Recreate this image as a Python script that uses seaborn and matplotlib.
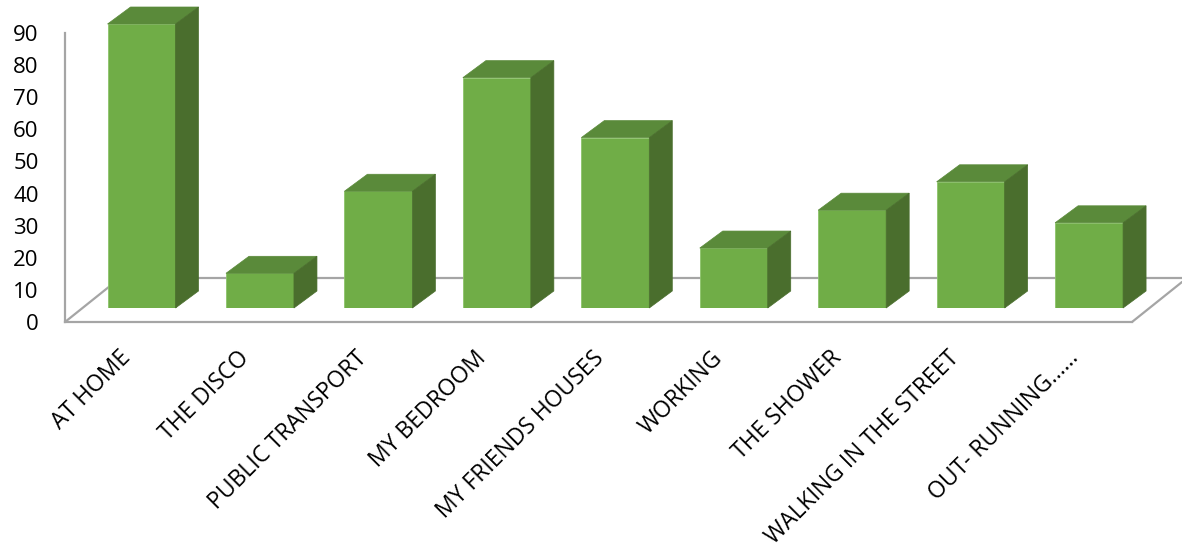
import numpy as np
import pandas as pd
import matplotlib
matplotlib.use("Agg")
import matplotlib.pyplot as plt
import matplotlib.transforms as mtransforms
from matplotlib.patches import Polygon
from matplotlib.lines import Line2D
import seaborn as sns

categories = ["AT HOME", "THE DISCO", "PUBLIC TRANSPORT", "MY BEDROOM",
              "MY FRIENDS HOUSES", "WORKING", "THE SHOWER",
              "WALKING IN THE STREET", "OUT- RUNNING……"]
values = [90, 11, 37, 73, 54, 19, 31, 40, 27]
y_ticks = [0, 10, 20, 30, 40, 50, 60, 70, 80, 90]

FRONT = "#70AD47"
TOP = "#5A8A3A"
SIDE = "#4A6E2D"
GRID = "#A5A5A5"

sns.set_theme(style="white")
plt.rcParams["font.family"] = ["Open Sans", "DejaVu Sans"]

W, H = 1182, 548
fig = plt.figure(figsize=(W / 100, H / 100), dpi=100)

def px(x, y):
    return (x, H - y)

# floor / wall axis with value ticks
ax2 = fig.add_axes([65 / W, (H - 322) / H, (1132 - 65) / W, (322 - 33) / H])
ax2.set_ylim(0, 90)
ax2.set_xlim(0, 1)
ax2.set_yticks(y_ticks)
ax2.set_yticklabels([str(t) for t in y_ticks], fontsize=16, color="#000000")
ax2.set_xticks([])
ax2.tick_params(axis="y", length=0, pad=19)
for s in ["top", "right"]:
    ax2.spines[s].set_visible(False)
for s in ["left", "bottom"]:
    ax2.spines[s].set_color(GRID)
    ax2.spines[s].set_linewidth(1.6)
ax2.patch.set_visible(False)
ax2.set_zorder(0)

# back edge and sides of the floor
idt = mtransforms.IdentityTransform()
for (x0, y0), (x1, y1) in [((65, 322), (120, 278)), ((120, 278), (1182, 278)),
                           ((1132, 322), (1182, 282))]:
    a, b = px(x0, y0), px(x1, y1)
    ln = Line2D([a[0], b[0]], [a[1], b[1]], color=GRID, lw=1.6, transform=idt, zorder=0.5)
    fig.add_artist(ln)

# bars
ax = fig.add_axes([82.3 / W, (H - 308) / H, 1066 / W, 284 / H])
df = pd.DataFrame({"cat": categories, "val": values})
sns.barplot(data=df, x="cat", y="val", color=FRONT, saturation=1, width=0.574,
            ax=ax, edgecolor="#8CC46A", linewidth=0.6)
ax.set_xlim(-0.5, len(categories) - 0.5)
ax.set_ylim(0, 90)
ax.set_xlabel("")
ax.set_ylabel("")
ax.set_yticks([])
for s in ax.spines.values():
    s.set_visible(False)
ax.patch.set_visible(False)
ax.set_zorder(1)

DX, DY = 23, 17
fig.canvas.draw()
for p in ax.patches:
    x0, x1 = p.get_x(), p.get_x() + p.get_width()
    y0, y1 = p.get_y(), p.get_y() + p.get_height()
    (ax0, ay0) = ax.transData.transform((x0, y0))
    (ax1, ay1) = ax.transData.transform((x1, y1))
    top = Polygon([(ax0, ay1), (ax1, ay1), (ax1 + DX, ay1 + DY), (ax0 + DX, ay1 + DY)],
                  closed=True, facecolor=TOP, edgecolor=TOP, lw=0.5,
                  transform=idt, clip_on=False)
    side = Polygon([(ax1, ay0), (ax1, ay1), (ax1 + DX, ay1 + DY), (ax1 + DX, ay0 + DY)],
                   closed=True, facecolor=SIDE, edgecolor=SIDE, lw=0.5,
                   transform=idt, clip_on=False)
    ax.add_patch(top)
    ax.add_patch(side)

ax.set_xticks(range(len(categories)))
ax.set_xticklabels(categories, rotation=45, ha="right", rotation_mode="anchor",
                   fontsize=16.5, color="#000000")
ax.tick_params(axis="x", length=0, pad=27.5)
off = mtransforms.ScaledTranslation(-23 / 100, 0, fig.dpi_scale_trans)
for lab in ax.get_xticklabels():
    lab.set_transform(lab.get_transform() + off)

fig.savefig("out.png", dpi=100)
